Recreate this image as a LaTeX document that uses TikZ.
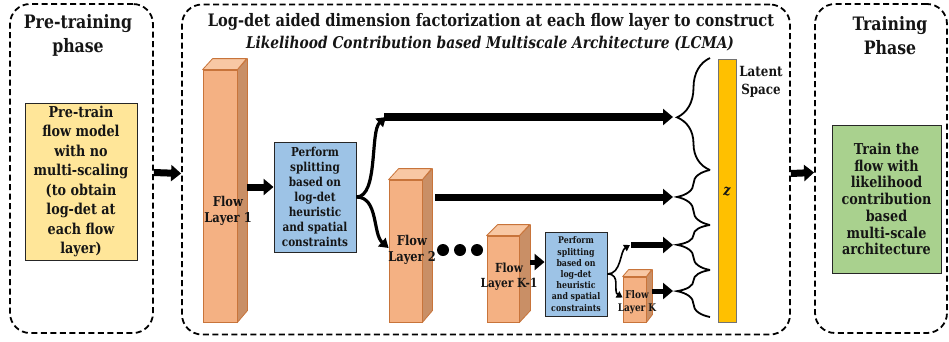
\documentclass[tikz,border=0pt]{standalone}
\usepackage{fontspec}
\setmainfont[FakeStretch=0.85]{DejaVu Serif}
\usetikzlibrary{arrows.meta,decorations.pathreplacing,calc}
\definecolor{txt}{HTML}{151515}
\definecolor{yel}{HTML}{FFE699}
\definecolor{blu}{HTML}{9DC3E6}
\definecolor{grn}{HTML}{A9D18E}
\definecolor{ffront}{HTML}{F4B183}
\definecolor{fside}{HTML}{C98F66}
\definecolor{ftop}{HTML}{F8C8A4}
\definecolor{fedge}{HTML}{C8743A}
\definecolor{gold}{HTML}{FFC000}
\tikzset{
  phasebox/.style={draw=black, dashed, dash pattern=on 6pt off 3.5pt, line width=1.8pt, rounded corners=20pt, inner sep=0pt},
  infobox/.style={draw=black!85, line width=0.9pt, inner sep=0pt, align=center, text=txt, font=\bfseries},
  front/.style={fill=ffront, draw=fedge, line width=0.8pt, inner sep=0pt},
  sideface/.style={fill=fside, draw=fedge, line width=0.8pt, line join=round},
  topface/.style={fill=ftop, draw=fedge, line width=0.8pt, line join=round},
  lbl/.style={align=center, text=txt, font=\bfseries, inner sep=0pt},
  bigarrow/.style={line width=#1, -{Triangle[length=10pt,width=16pt]}},
  curvearrow/.style={line width=3.2pt, -{Triangle[length=9pt,width=11pt]}},
  thinarrow/.style={line width=1.6pt, -{Triangle[length=6pt,width=7pt]}},
  bracestyle/.style={line width=1.8pt, decorate, decoration={brace, amplitude=#1}},
  dotnode/.style={circle, fill=black, minimum size=12pt, inner sep=0pt}
}
\begin{document}
\begin{tikzpicture}[x=1pt,y=-1pt]
\useasboundingbox (0,0) rectangle (949,341);
\fill[white] (0,0) rectangle (949,341);

% phase boxes
\node[phasebox, minimum width=143pt, minimum height=329pt] (pre) at (81.5,168.5) {};
\node[phasebox, minimum width=608pt, minimum height=330pt] (mid) at (486,169.5) {};
\node[phasebox, minimum width=132pt, minimum height=329pt] (trn) at (881,168.5) {};

% titles
\node[lbl, font=\bfseries\fontsize{18.5}{24}\selectfont] (pretitle) at (78,35) {Pre-training\\phase};
\node[lbl, font=\bfseries\fontsize{17.2}{22}\selectfont] (title1) at (491,22) {Log-det aided dimension factorization at each flow layer to construct};
\node[lbl, font=\bfseries\itshape\fontsize{16.2}{22}\selectfont] (title2) at (490,44) {Likelihood Contribution based Multiscale Architecture (LCMA)};
\node[lbl, font=\bfseries\fontsize{18.5}{24}\selectfont] (trntitle) at (890,36) {Training\\Phase};

% left and right boxes
\node[infobox, fill=yel, minimum width=112pt, minimum height=157pt, font=\bfseries\fontsize{15}{19.5}\selectfont] (pt) at (81,181.5) {Pre-train\\flow model\\with no\\multi-scaling\\(to obtain\\log-det at\\each flow\\layer)};
\node[infobox, fill=grn, minimum width=109pt, minimum height=148pt, font=\bfseries\fontsize{15}{16.7}\selectfont] (tr) at (886.5,199) {Train the\\flow with\\likelihood\\contribution\\based\\multi-scale\\architecture};

% flow layers (front faces)
\node[front, minimum width=34pt, minimum height=252pt] (f1) at (220,196) {};
\fill[sideface] (f1.north east) -- ++(10,-11) -- ++(0,252) -- (f1.south east) -- cycle;
\fill[topface] (f1.north west) -- ++(10,-11) -- ++(34,0) -- (f1.north east) -- cycle;
\node[lbl, font=\bfseries\fontsize{13.5}{16}\selectfont] (f1t) at (228,211) {Flow\\Layer 1};

\node[front, minimum width=33pt, minimum height=142pt] (f2) at (405.5,251) {};
\fill[sideface] (f2.north east) -- ++(10,-11) -- ++(0,142) -- (f2.south east) -- cycle;
\fill[topface] (f2.north west) -- ++(10,-11) -- ++(33,0) -- (f2.north east) -- cycle;
\node[lbl, font=\bfseries\fontsize{13.5}{15.5}\selectfont] (f2t) at (412,250) {Flow\\Layer 2};

\node[front, minimum width=32pt, minimum height=86pt] (fk1) at (503,279) {};
\fill[sideface] (fk1.north east) -- ++(11,-11) -- ++(0,86) -- (fk1.south east) -- cycle;
\fill[topface] (fk1.north west) -- ++(11,-11) -- ++(32,0) -- (fk1.north east) -- cycle;
\node[lbl, font=\bfseries\fontsize{12.5}{15}\selectfont] (fk1t) at (509,277) {Flow\\Layer K-1};

\node[front, minimum width=23pt, minimum height=45pt] (fk) at (634.5,299.5) {};
\fill[sideface] (fk.north east) -- ++(6,-7) -- ++(0,45) -- (fk.south east) -- cycle;
\fill[topface] (fk.north west) -- ++(6,-7) -- ++(23,0) -- (fk.north east) -- cycle;
\node[lbl, font=\bfseries\fontsize{10.5}{13}\selectfont] (fkt) at (637,302) {Flow\\Layer K};

% splitting boxes
\node[infobox, fill=blu, minimum width=82pt, minimum height=110pt, font=\bfseries\fontsize{12.3}{15}\selectfont] (b1) at (315,197) {Perform\\splitting\\based on\\log-det\\heuristic\\and spatial\\constraints};
\node[infobox, fill=blu, minimum width=62pt, minimum height=84pt, font=\bfseries\fontsize{9.2}{11.2}\selectfont] (b2) at (576,274) {Perform\\splitting\\based on\\log-det\\heuristic\\and spatial\\constraints};

% dots
\node[dotnode] (d1) at (443,250) {};
\node[dotnode] (d2) at (460,250) {};
\node[dotnode] (d3) at (477,250) {};

% latent bar
\node[draw=black!55, fill=gold, line width=0.9pt, minimum width=18pt, minimum height=263pt, inner sep=0pt] (z) at (727,190.5) {};
\node[lbl, font=\bfseries\itshape\fontsize{15}{16}\selectfont] (zt) at (727,192) {z};
\node[lbl, font=\bfseries\fontsize{14}{18}\selectfont] (lat) at (761,82) {Latent\\Space};

% coordinates
\coordinate (s1) at (386,117);
\coordinate (s2) at (630,245);
\coordinate (t1) at (673,117);
\coordinate (t2) at (673,197);
\coordinate (t3) at (673,245);
\coordinate (t4) at (673,291);

% arrows between phases
\draw[bigarrow=7pt] ([yshift=-4pt]pre.east) -- ([yshift=-4pt]mid.west);
\draw[bigarrow=7pt] ([yshift=-4pt]mid.east) -- ([yshift=-4pt]trn.west);

% flow arrows
\draw[bigarrow=7pt] ([xshift=10pt,yshift=9pt]f1.east) -- ([yshift=10pt]b1.west);
\draw[curvearrow] (b1.east) .. controls +(22,0) and +(-16,14) .. (s1);
\draw[curvearrow] (b1.east) .. controls +(22,0) and +(-16,-14) .. ([yshift=3pt]f2.west);
\draw[bigarrow=8pt] ([xshift=-2pt]s1) -- (t1);
\draw[bigarrow=7pt] ([xshift=13pt]f2.east |- t2) -- (t2);
\draw[bigarrow=5pt] ([xshift=11pt,yshift=17pt]fk1.east) -- ([yshift=12pt]b2.west);
\draw[thinarrow] (b2.east) .. controls +(14,0) and +(-10,6) .. (s2);
\draw[thinarrow] (b2.east) .. controls +(14,0) and +(-10,-6) .. ([yshift=2pt]fk.west);
\draw[bigarrow=6pt] ([xshift=1pt]s2) -- (t3);
\draw[bigarrow=5pt] ([xshift=6pt]fk.east |- t4) -- (t4);

% braces
\coordinate (e0) at (710,58);
\coordinate (e1) at (710,170);
\coordinate (e2) at (710,225);
\coordinate (e3) at (710,270);
\coordinate (e4) at (710,317);
\draw[bracestyle=33pt, decoration={aspect=0.47}] (e1) -- (e0);
\draw[bracestyle=33pt, decoration={aspect=0.51}] (e2) -- (e1);
\draw[bracestyle=33pt, decoration={aspect=0.56}] (e3) -- (e2);
\draw[bracestyle=33pt, decoration={aspect=0.55}] (e4) -- (e3);
\end{tikzpicture}
\end{document}
